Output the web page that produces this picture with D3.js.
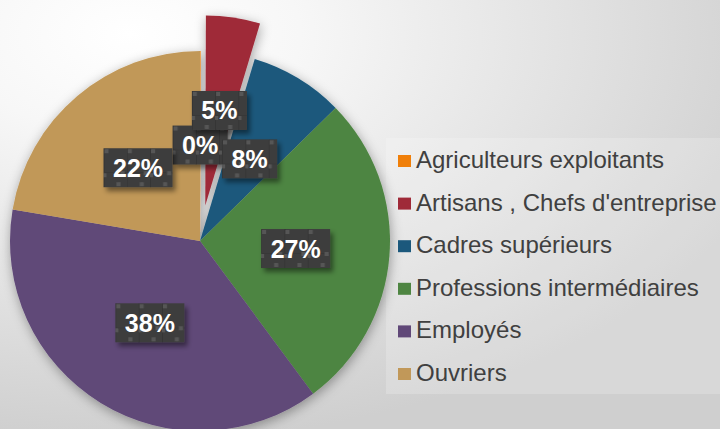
<!DOCTYPE html>
<html>
<head>
<meta charset="utf-8">
<script src="https://cdn.jsdelivr.net/npm/d3@7"></script>
<style>
  html, body { margin: 0; padding: 0; background: #fff; }
  svg { display: block; }
</style>
</head>
<body>
<script>
const categories = ['Agriculteurs exploitants', 'Artisans , Chefs d\'entreprise', 'Cadres supérieurs',
  'Professions intermédiaires', 'Employés', 'Ouvriers'];
const values = [0.05, 4.6, 8.0, 27.2, 37.8, 22.35];
const labels = ['0%', '5%', '8%', '27%', '38%', '22%'];
const colors = ['#f07f09', '#9f2a38', '#1b587c', '#4e8542', '#604878', '#c19859'];
const exploded = [false, true, false, false, false, false];

const width = 720;
const height = 429;
const cx = 200;
const cy = 241;
const radius = 190;

const svg = d3.select('body')
  .append('svg')
  .attr('width', width)
  .attr('height', height)
  .style('font-family', 'Arial, "Liberation Sans", sans-serif');

const defs = svg.append('defs');

const bg = defs.append('radialGradient')
  .attr('id', 'bg')
  .attr('cx', '18%').attr('cy', '8%').attr('r', '95%');
bg.append('stop').attr('offset', '0').attr('stop-color', '#ffffff');
bg.append('stop').attr('offset', '0.25').attr('stop-color', '#f7f7f7');
bg.append('stop').attr('offset', '1').attr('stop-color', '#cfcfcf');

const pieShadow = defs.append('filter').attr('id', 'pieShadow')
  .attr('x', '-20%').attr('y', '-20%').attr('width', '140%').attr('height', '140%');
pieShadow.append('feDropShadow')
  .attr('dx', 1).attr('dy', 3).attr('stdDeviation', 6)
  .attr('flood-color', '#000').attr('flood-opacity', 0.35);

const boxShadow = defs.append('filter').attr('id', 'boxShadow')
  .attr('x', '-30%').attr('y', '-30%').attr('width', '170%').attr('height', '190%');
boxShadow.append('feDropShadow')
  .attr('dx', 3).attr('dy', 4).attr('stdDeviation', 2.5)
  .attr('flood-color', '#000').attr('flood-opacity', 0.45);

// dark textured label fill
const tex = defs.append('pattern')
  .attr('id', 'tex')
  .attr('patternUnits', 'userSpaceOnUse')
  .attr('width', 23.3).attr('height', 39);
tex.append('rect').attr('width', 23.3).attr('height', 39).attr('fill', '#3d3d3d');
tex.append('rect').attr('x', 0).attr('y', 0).attr('width', 1).attr('height', 39).attr('fill', '#353535');
tex.append('rect').attr('x', 0).attr('y', 24).attr('width', 23.3).attr('height', 1).attr('fill', '#383838');
[[1, 1, 4, 4], [0, 25, 3, 4], [13, 34, 4, 4], [17, 23, 4, 4]].forEach(([x, y, w, h]) => {
  tex.append('rect').attr('x', x).attr('y', y).attr('width', w).attr('height', h).attr('fill', '#575757');
});

svg.append('rect')
  .attr('width', width).attr('height', height)
  .attr('fill', 'url(#bg)');

// legend backdrop
svg.append('rect')
  .attr('x', 386).attr('y', 138)
  .attr('width', 334).attr('height', 256)
  .attr('fill', '#ffffff').attr('opacity', 0.2);

const pie = d3.pie().sort(null).value(d => d)(values);
const arc = d3.arc().innerRadius(0).outerRadius(radius);
const labelArc = d3.arc().innerRadius(radius * 0.505).outerRadius(radius * 0.505);
const explode = 36;

const offset = (d, i) => {
  if (!exploded[i]) return [0, 0];
  const a = (d.startAngle + d.endAngle) / 2;
  return [Math.sin(a) * explode, -Math.cos(a) * explode];
};

const g = svg.append('g')
  .attr('transform', `translate(${cx},${cy})`);

g.append('g')
  .attr('filter', 'url(#pieShadow)')
  .selectAll('path')
  .data(pie)
  .join('path')
    .attr('d', arc)
    .attr('fill', (d, i) => colors[i])
    .attr('transform', (d, i) => `translate(${offset(d, i)})`);

const label = g.append('g')
  .selectAll('g')
  .data(pie)
  .join('g')
    .attr('transform', (d, i) => {
      const [x, y] = labelArc.centroid(d);
      const [ox, oy] = offset(d, i);
      return `translate(${x + ox},${y + oy})`;
    });

label.each(function(d, i) {
  const el = d3.select(this);
  const t = el.append('text')
    .attr('text-anchor', 'middle')
    .attr('y', 9)
    .attr('fill', '#ffffff')
    .style('font-size', '25px')
    .style('font-weight', 'bold')
    .text(labels[i]);
  const w = t.node().getComputedTextLength() + 19;
  const h = 39;
  el.insert('g', 'text')
    .attr('transform', `translate(${-w / 2},${-h / 2})`)
    .append('rect')
      .attr('width', w).attr('height', h)
      .attr('fill', 'url(#tex)')
      .attr('filter', 'url(#boxShadow)');
});

const legend = svg.append('g')
  .selectAll('g')
  .data(categories)
  .join('g')
    .attr('transform', (d, i) => `translate(398,${168 + i * 42.6})`);

legend.append('rect')
  .attr('y', -13)
  .attr('width', 13).attr('height', 12)
  .attr('fill', (d, i) => colors[i]);

legend.append('text')
  .attr('x', 18)
  .attr('fill', '#404040')
  .style('font-size', '24px')
  .text(d => d);
</script>
</body>
</html>
